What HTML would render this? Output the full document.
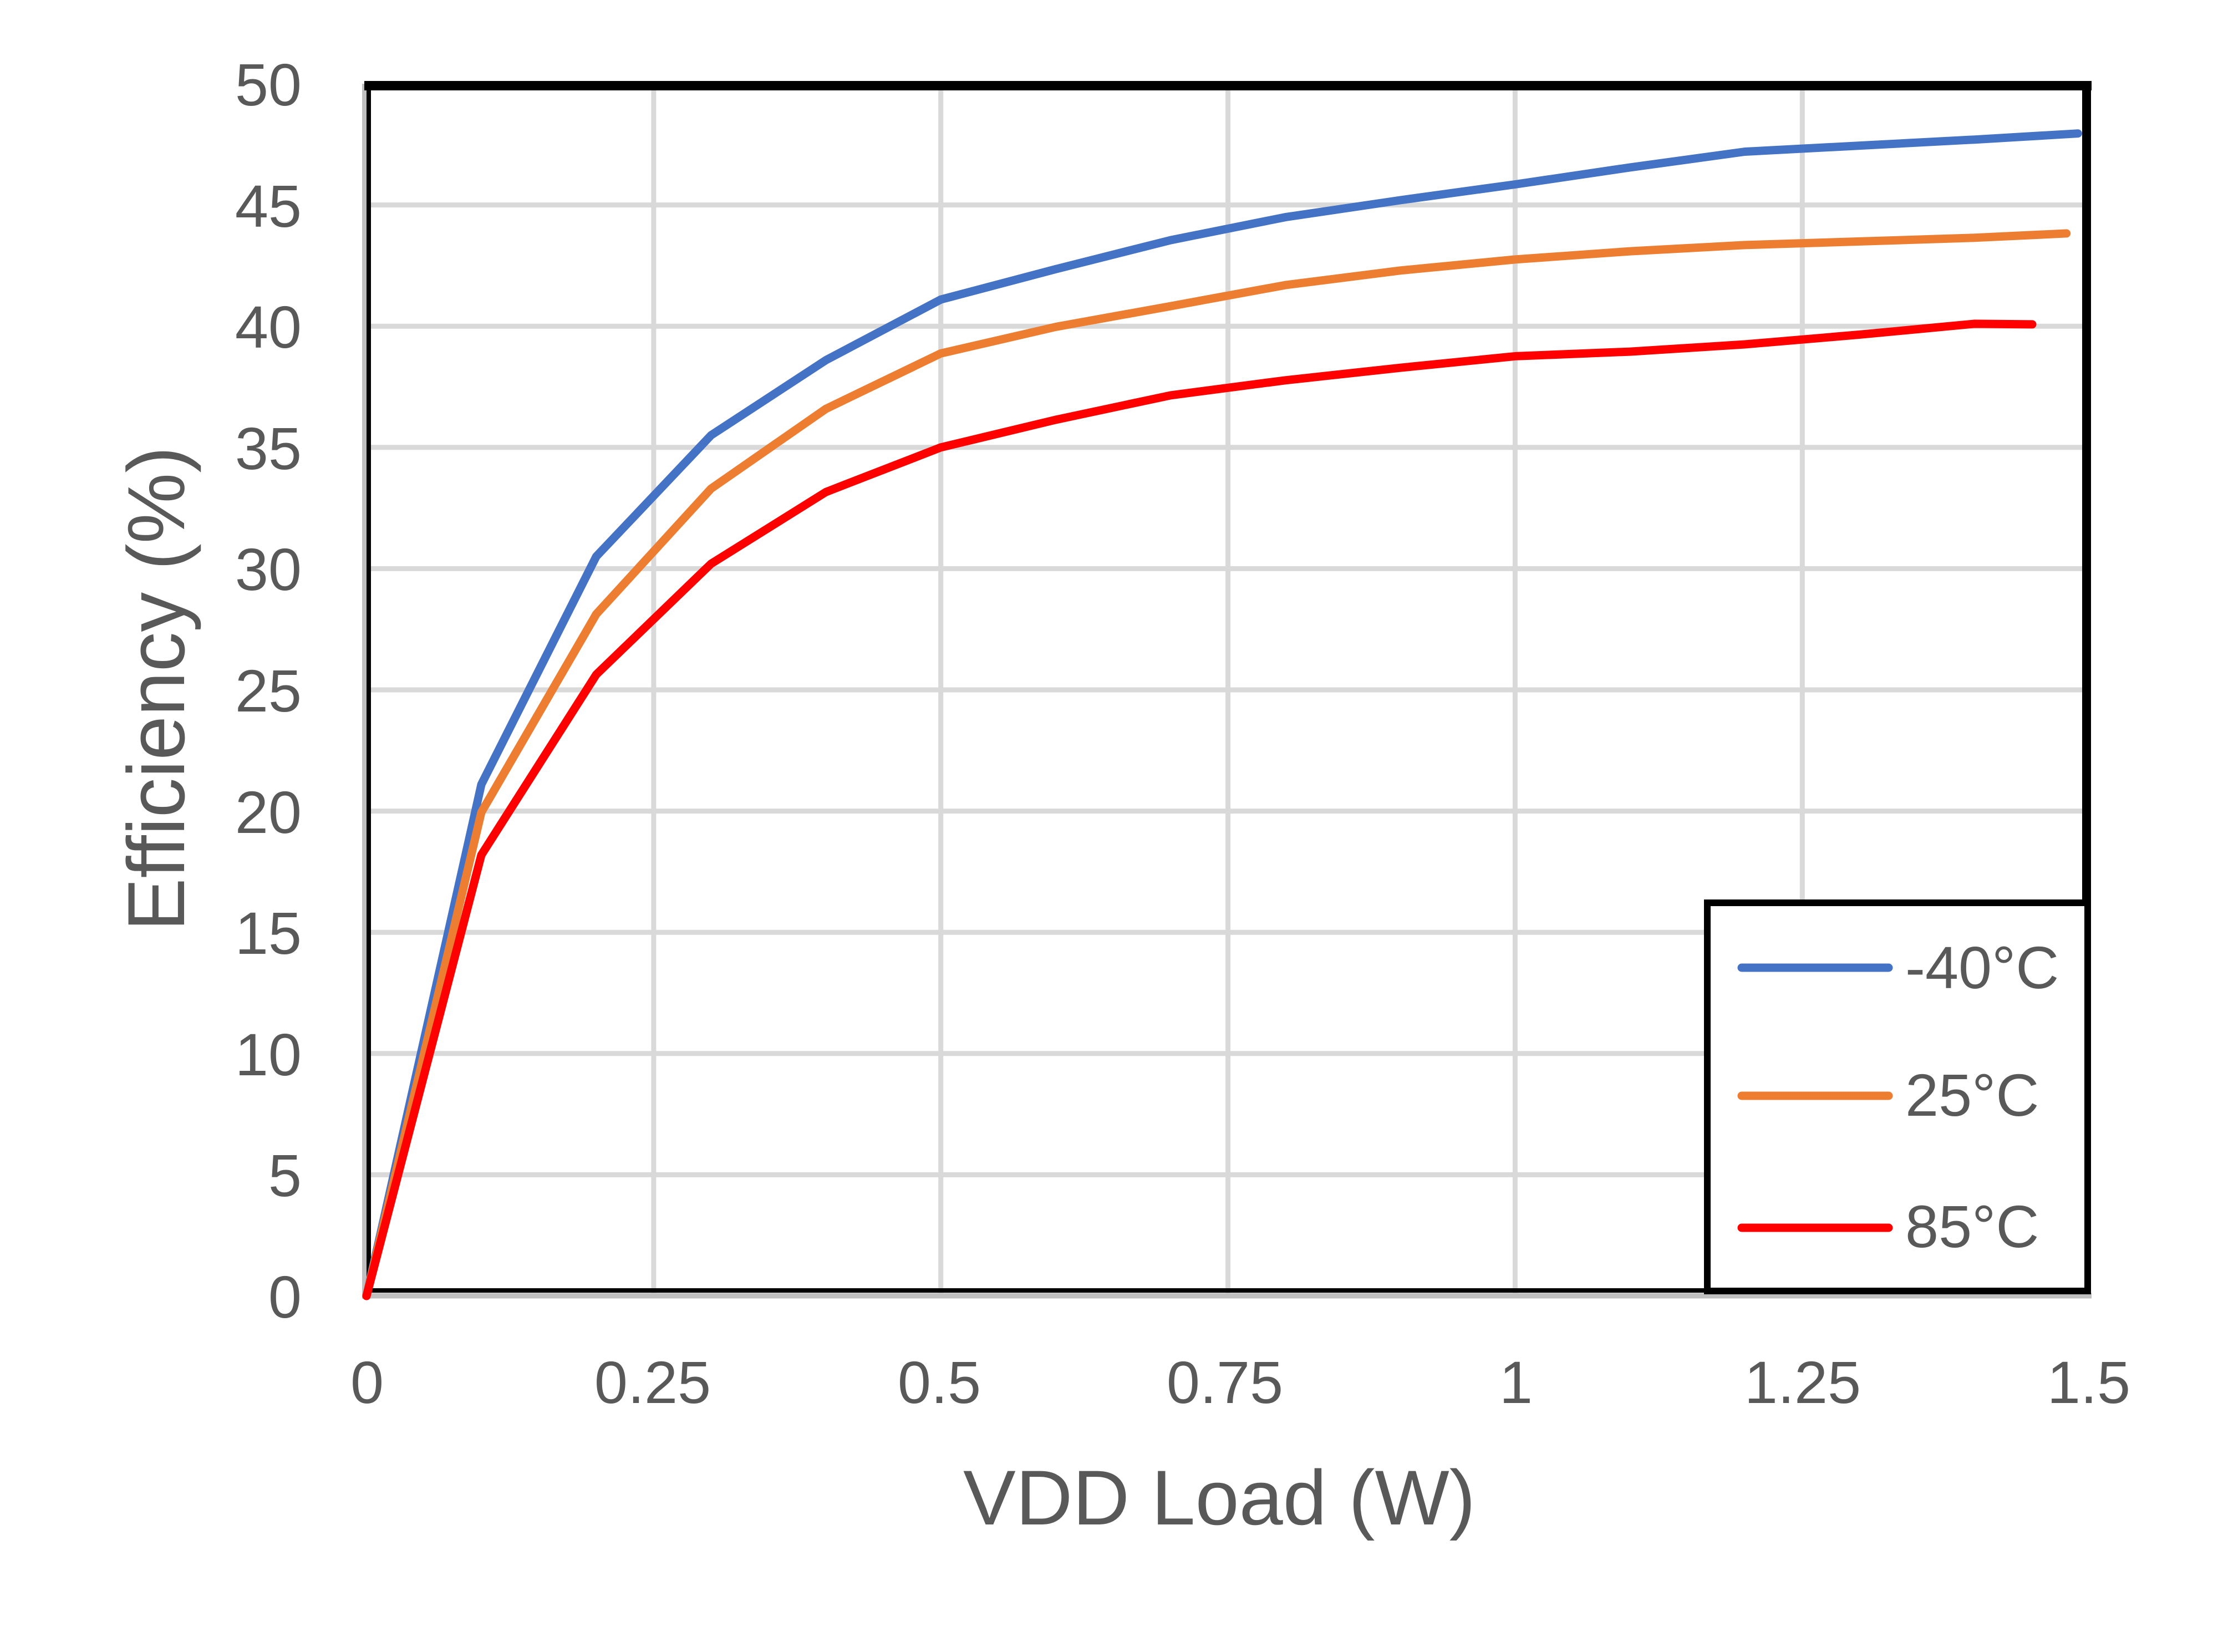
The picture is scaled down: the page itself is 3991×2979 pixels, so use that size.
<!DOCTYPE html>
<html>
<head>
<meta charset="utf-8">
<style>
html,body{margin:0;padding:0;background:#fff;}
svg{display:block;}
text{font-family:"Liberation Sans","DejaVu Sans",sans-serif;fill:#595959;}
</style>
</head>
<body>
<svg width="3991" height="2979" viewBox="0 0 3991 2979" xmlns="http://www.w3.org/2000/svg">
<rect x="0" y="0" width="3991" height="2979" fill="#ffffff"/>
<!-- horizontal gridlines -->
<g stroke="#D9D9D9" stroke-width="9">
<line x1="661" y1="2118.4" x2="3768" y2="2118.4"/>
<line x1="661" y1="1899.8" x2="3768" y2="1899.8"/>
<line x1="661" y1="1681.2" x2="3768" y2="1681.2"/>
<line x1="661" y1="1462.6" x2="3768" y2="1462.6"/>
<line x1="661" y1="1244" x2="3768" y2="1244"/>
<line x1="661" y1="1025.4" x2="3768" y2="1025.4"/>
<line x1="661" y1="806.8" x2="3768" y2="806.8"/>
<line x1="661" y1="588.2" x2="3768" y2="588.2"/>
<line x1="661" y1="369.6" x2="3768" y2="369.6"/>
<!-- vertical gridlines -->
<line x1="1178.9" y1="151" x2="1178.9" y2="2337"/>
<line x1="1696.7" y1="151" x2="1696.7" y2="2337"/>
<line x1="2214.6" y1="151" x2="2214.6" y2="2337"/>
<line x1="2732.4" y1="151" x2="2732.4" y2="2337"/>
<line x1="3250.3" y1="151" x2="3250.3" y2="2337"/>
</g>
<!-- gray axis lines -->
<line x1="657" y1="151" x2="657" y2="2342" stroke="#BFBFBF" stroke-width="8"/>
<line x1="653" y1="2336.5" x2="3772" y2="2336.5" stroke="#BFBFBF" stroke-width="10"/>
<!-- black frame -->
<rect x="657" y="146" width="3115" height="17" fill="#000"/>
<rect x="3755" y="146" width="16" height="2188" fill="#000"/>
<rect x="661" y="146" width="8" height="2185" fill="#000"/>
<rect x="661" y="2323" width="3110" height="8" fill="#000"/>

<!-- series -->
<g fill="none" stroke-width="15" stroke-linejoin="round" stroke-linecap="round">
<polyline stroke="#4472C4" points="661,2337 868.1,1414.5 1075.3,1003.5 1282.4,784.9 1489.6,649.4 1696.7,540.1 1903.8,485.4 2111,433.1 2318.1,391.6 2525.3,361 2732.4,332.5 2939.6,301.9 3146.7,273.5 3353.8,262.6 3561,251.7 3747.4,240.7"/>
<polyline stroke="#ED7D31" points="661,2337 868.1,1464.8 1075.3,1107.4 1282.4,881.1 1489.6,737.2 1696.7,637.3 1903.8,589.5 2111,552.1 2318.1,514.1 2525.3,487.8 2732.4,467.9 2939.6,453.1 3146.7,441.9 3353.8,435.4 3561,428.8 3726.7,420.9"/>
<polyline stroke="#FF0000" points="661,2337 868.1,1541.7 1075.3,1216.4 1282.4,1016.6 1489.6,887.2 1696.7,806.8 1903.8,757 2111,712.9 2318.1,685.8 2525.3,663.2 2732.4,642.4 2939.6,634.1 3146.7,621 3353.8,603.4 3561,583.9 3665,584.9"/>
</g>

<!-- legend -->
<rect x="3079" y="1628" width="686" height="700" fill="#fff" stroke="#000" stroke-width="12"/>
<line x1="3141" y1="1745" x2="3406" y2="1745" stroke="#4472C4" stroke-width="15" stroke-linecap="round"/>
<line x1="3141" y1="1976" x2="3406" y2="1976" stroke="#ED7D31" stroke-width="15" stroke-linecap="round"/>
<line x1="3141" y1="2214" x2="3406" y2="2214" stroke="#FF0000" stroke-width="15" stroke-linecap="round"/>
<text x="3436" y="1782" font-size="108">-40°C</text>
<text x="3436" y="2012" font-size="108">25°C</text>
<text x="3436" y="2249" font-size="108">85°C</text>

<!-- y tick labels -->
<g font-size="108" text-anchor="end">
<text x="544" y="2376">0</text>
<text x="544" y="2157">5</text>
<text x="544" y="1939">10</text>
<text x="544" y="1720">15</text>
<text x="544" y="1502">20</text>
<text x="544" y="1283">25</text>
<text x="544" y="1064">30</text>
<text x="544" y="846">35</text>
<text x="544" y="627">40</text>
<text x="544" y="409">45</text>
<text x="544" y="190">50</text>
</g>
<!-- x tick labels -->
<g font-size="108" text-anchor="middle">
<text x="662" y="2530">0</text>
<text x="1177" y="2530">0.25</text>
<text x="1694" y="2530">0.5</text>
<text x="2209" y="2530">0.75</text>
<text x="2734" y="2530">1</text>
<text x="3251" y="2530">1.25</text>
<text x="3767" y="2530">1.5</text>
</g>
<!-- axis titles -->
<text x="2199" y="2749" font-size="140" text-anchor="middle" textLength="924" lengthAdjust="spacingAndGlyphs">VDD Load (W)</text>
<text x="0" y="0" font-size="146" text-anchor="middle" transform="translate(332,1242) rotate(-90)" textLength="874" lengthAdjust="spacingAndGlyphs">Efficiency (%)</text>
</svg>
</body>
</html>
